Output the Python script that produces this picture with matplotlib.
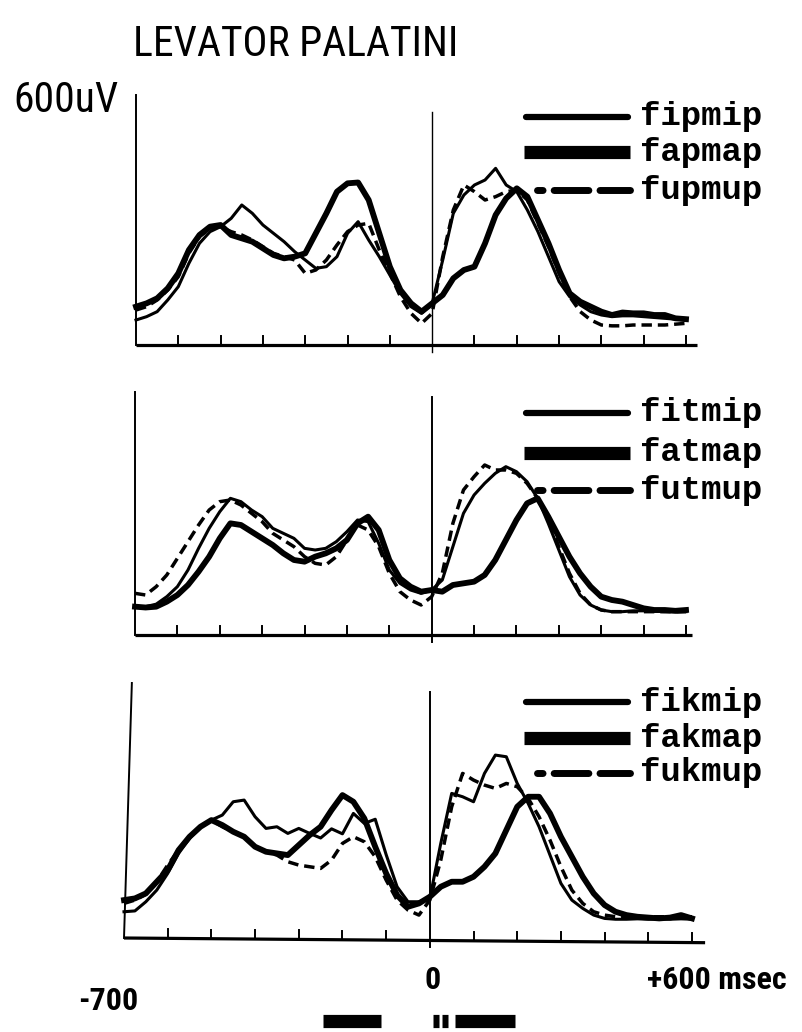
import matplotlib
matplotlib.use("Agg")
import matplotlib.pyplot as plt
from matplotlib import font_manager
from matplotlib.lines import Line2D
from matplotlib.transforms import Affine2D

# sample times (msec) relative to the acoustic reference point
msec = list(range(-700, 625, 25))

# EMG amplitude (uV)
fipmip = [60, 68, 80, 108, 140, 196, 244, 272, 284, 304, 336, 316, 288, 268, 248, 224, 204, 184, 188, 212, 268, 296, 252, 212, 168, 124, 92, 76, 100,
          204, 316, 360, 384, 396, 424, 384, 368, 324, 272, 212, 152, 116, 96, 80, 72, 68, 70, 70, 68, 66, 64, 62, 60]
fapmap = [92, 100, 112, 136, 172, 228, 264, 284, 288, 264, 256, 248, 232, 216, 208, 212, 220, 268, 316, 368, 388, 390, 348, 268, 188, 132, 100, 80, 100,
          120, 160, 180, 188, 244, 312, 352, 376, 356, 300, 244, 180, 124, 104, 92, 80, 72, 78, 76, 76, 72, 72, 64, 62]
fupmup = [84, 92, 108, 132, 164, 220, 260, 280, 284, 272, 264, 252, 236, 220, 212, 204, 172, 180, 204, 240, 272, 288, 292, 228, 172, 116, 76, 52, 76,
          212, 324, 384, 368, 348, 356, 368, 372, 348, 292, 236, 172, 116, 80, 60, 48, 46, 46, 48, 48, 48, 48, 50, 52]

fitmip = [68, 68, 74, 92, 116, 156, 208, 256, 296, 328, 320, 300, 284, 256, 244, 232, 208, 204, 208, 224, 248, 276, 272, 220, 156, 124, 108, 100, 108,
          132, 212, 292, 336, 364, 388, 404, 392, 368, 328, 268, 204, 140, 96, 72, 60, 56, 56, 58, 58, 57, 56, 56, 56]
fatmap = [68, 66, 68, 80, 96, 120, 152, 188, 232, 268, 264, 248, 232, 216, 196, 180, 176, 188, 196, 208, 228, 268, 284, 252, 180, 136, 116, 104, 108,
          104, 120, 124, 128, 144, 180, 228, 276, 316, 328, 284, 236, 188, 148, 116, 92, 84, 80, 72, 64, 60, 60, 58, 60]
futmup = [100, 96, 116, 144, 184, 224, 264, 300, 320, 324, 312, 292, 272, 244, 228, 212, 188, 172, 168, 188, 228, 264, 252, 212, 148, 104, 84, 72, 92,
          148, 268, 348, 380, 408, 396, 396, 388, 364, 328, 276, 212, 148, 100, 72, 60, 56, 56, 56, 56, 56, 56, 56, 56]

fikmip = [63, 65, 87, 115, 155, 203, 239, 267, 283, 295, 327, 331, 291, 263, 267, 251, 263, 251, 240, 262, 250, 299, 275, 285, 200, 123, 87, 87, 95,
          227, 347, 339, 327, 395, 439, 435, 371, 323, 267, 199, 131, 91, 71, 55, 47, 45, 45, 46, 45, 46, 45, 46, 45]
fakmap = [91, 95, 107, 135, 163, 211, 243, 267, 283, 271, 255, 243, 219, 207, 203, 199, 223, 247, 267, 307, 343, 327, 287, 219, 155, 103, 75, 83, 99,
          123, 135, 135, 147, 171, 203, 259, 315, 339, 339, 299, 243, 195, 147, 107, 79, 63, 55, 51, 49, 47, 49, 55, 47]
fukmup = [83, 91, 105, 135, 175, 211, 243, 267, 283, 267, 255, 243, 219, 207, 199, 183, 175, 171, 167, 187, 227, 243, 231, 195, 139, 91, 67, 55, 91,
          187, 315, 395, 379, 367, 359, 371, 363, 335, 291, 235, 171, 115, 83, 63, 55, 51, 51, 51, 51, 51, 51, 51, 51]

panels = [
    (["fipmip", "fapmap", "fupmup"], [fipmip, fapmap, fupmup]),
    (["fitmip", "fatmap", "futmup"], [fitmip, fatmap, futmup]),
    (["fikmip", "fakmap", "fukmup"], [fikmip, fakmap, fukmup]),
]
tick_ms = [-600, -500, -400, -300, -200, -100, 100, 200, 300, 400, 500, 600]


def condensed_font():
    fl = font_manager.fontManager.ttflist
    names = {f.name for f in fl}
    for n in ["Liberation Sans Narrow", "Roboto Condensed", "Open Sans Condensed"]:
        if n in names:
            return n, "normal"
    if any(f.name == "DejaVu Sans" and "condensed" in str(f.stretch) for f in fl):
        return "DejaVu Sans", "condensed"
    return "DejaVu Sans", "normal"


cfam, cstretch = condensed_font()

W, H = 802, 1032
fig = plt.figure(figsize=(W / 100, H / 100), dpi=100)
fig.patch.set_facecolor("white")
px = Affine2D().scale(1 / W, -1 / H).translate(0, 1) + fig.transFigure

# layout of each panel in pixels: left(-700), right(+600), baseline, yaxis top (uV), zero line top (uV),
# yaxis lean (ms at top), baseline tilt (uV at right), baseline end (ms), legend rows (px)
layout = [
    (136, 686, 345, 600, 560, -700, 0, 625, [117, 152, 190]),
    (135, 686, 635, 583, 571, -700, 0, 615, [413, 453, 490]),
    (124, 692, 938, 612, 590, -682, 11, 630, [702, 738, 773]),
]

for (names, series), (x0, x1, base, ytop, ztop, lean, tilt, xend, rows) in zip(panels, layout):
    ax = fig.add_axes([x0 / W, 1 - base / H, (x1 - x0) / W, 250 / H])
    ax.set_xlim(-700, 600)
    ax.set_ylim(0, 600)
    ax.axis("off")

    def by(t):
        return -tilt * (t + 700) / 1300.0

    # axes drawn by hand (the original is hand-ruled)
    ax.plot([-700, xend], [by(-700), by(xend)], color="black", lw=2.3, clip_on=False, solid_capstyle="butt")
    ax.plot([-700, lean], [by(-700), ytop], color="black", lw=1.4, clip_on=False)
    ax.plot([0, 0], [by(0) - 16, ztop], color="black", lw=1.4 if ytop < 600 or lean != -700 else 1.0, clip_on=False)
    for t in tick_ms:
        ax.plot([t, t], [by(t), by(t) + 22], color="black", lw=1.4, clip_on=False)

    thin, thick, dashed = series
    ax.plot(msec, dashed, color="black", lw=2.5, ls=(0, (3.0, 1.7)), clip_on=False)
    ax.plot(msec, thick, color="black", lw=4.2, clip_on=False, solid_joinstyle="round")
    ax.plot(msec, thin, color="black", lw=2.2, clip_on=False, solid_joinstyle="round")

    # legend, drawn in figure pixels
    fig.add_artist(Line2D([526, 628], [rows[0], rows[0]], lw=4.5, color="black", transform=px, solid_capstyle="round"))
    fig.add_artist(Line2D([524, 630], [rows[1], rows[1]], lw=9.5, color="black", transform=px, solid_capstyle="butt"))
    fig.add_artist(Line2D([537, 630], [rows[2], rows[2]], lw=5.0, color="black", transform=px,
                          ls=(0, (0.8, 1.6, 5.0, 1.6, 4.5)), dash_capstyle="round"))
    for r, name in zip(rows, names):
        fig.text(640 / W, 1 - r / H, name, family="Liberation Mono", fontsize=24.5, fontweight="bold",
                 va="center", ha="left", color="black")

fig.text(133 / W, 1 - 44 / H, "LEVATOR PALATINI", family=cfam, stretch=cstretch,
         fontsize=30, va="center", ha="left", color="black")
fig.text(13 / W, 1 - 101 / H, "600uV", family=cfam, stretch=cstretch,
         fontsize=30, va="center", ha="left", color="black")

fig.text(108 / W, 1 - 1001 / H, "-700", family=cfam, stretch=cstretch, fontweight="bold",
         fontsize=23, va="center", ha="center", color="black")
fig.text(433 / W, 1 - 980 / H, "0", family=cfam, stretch=cstretch, fontweight="bold",
         fontsize=23, va="center", ha="center", color="black")
fig.text(647 / W, 1 - 980 / H, "+600 msec", family=cfam, stretch=cstretch, fontweight="bold",
         fontsize=23, va="center", ha="left", color="black")

# segment bars under the time axis
for xa, xb in [(323, 381), (433, 439), (442, 448), (455, 515)]:
    fig.add_artist(Line2D([xa, xb], [1021, 1021], lw=9.5, color="black", transform=px, solid_capstyle="butt"))

fig.savefig("out.png", dpi=100, facecolor="white")
